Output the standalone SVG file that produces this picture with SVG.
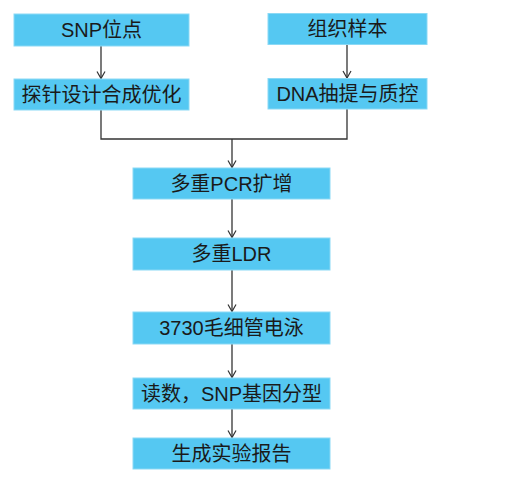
<svg xmlns="http://www.w3.org/2000/svg" width="531" height="491" viewBox="0 0 531 491">
<style>
.box{fill:#55C8F2;stroke:#8BD9F5;stroke-width:1}
.lbl{font-family:"Liberation Sans","Noto Sans CJK SC",sans-serif;font-size:20px;fill:#1a1a1a;text-anchor:middle}
.c{fill:none;stroke:#333;stroke-width:1.3}
</style>
<defs>
<marker id="ah" markerWidth="10" markerHeight="10" refX="8" refY="5" orient="auto" markerUnits="userSpaceOnUse">
<path d="M1,1 L8,5 L1,9" fill="none" stroke="#333" stroke-width="1.2"/>
</marker>
</defs>
<rect width="531" height="491" fill="#fff"/>
<g id="connectors">
<line class="c" x1="101" y1="46" x2="101" y2="78.5" marker-end="url(#ah)"/>
<line class="c" x1="347" y1="45" x2="347" y2="78" marker-end="url(#ah)"/>
<polyline class="c" points="101,110 101,139 347,139 347,109"/>
<line class="c" x1="232" y1="139" x2="232" y2="167.5" marker-end="url(#ah)"/>
<line class="c" x1="232" y1="199" x2="232" y2="237.5" marker-end="url(#ah)"/>
<line class="c" x1="232" y1="270" x2="232" y2="311.5" marker-end="url(#ah)"/>
<line class="c" x1="232" y1="344" x2="232" y2="377.5" marker-end="url(#ah)"/>
<line class="c" x1="232" y1="409" x2="232" y2="437.5" marker-end="url(#ah)"/>
</g>
<g id="n1"><rect class="box" x="14" y="14" width="175" height="32"/><text class="lbl" x="101.5" y="37">SNP位点</text></g>
<g id="n2"><rect class="box" x="268" y="13.5" width="159" height="31"/><text class="lbl" x="347.5" y="36">组织样本</text></g>
<g id="n3"><rect class="box" x="14" y="79" width="175" height="31"/><text class="lbl" x="101.5" y="101.5">探针设计合成优化</text></g>
<g id="n4"><rect class="box" x="268" y="78.5" width="159" height="30.5"/><text class="lbl" x="347.5" y="101">DNA抽提与质控</text></g>
<g id="n5"><rect class="box" x="133" y="168" width="197" height="31"/><text class="lbl" x="231.5" y="190.5">多重PCR扩增</text></g>
<g id="n6"><rect class="box" x="133" y="238" width="197" height="32"/><text class="lbl" x="231.5" y="261">多重LDR</text></g>
<g id="n7"><rect class="box" x="133" y="312" width="197" height="32"/><text class="lbl" x="231.5" y="335">3730毛细管电泳</text></g>
<g id="n8"><rect class="box" x="133" y="378" width="197" height="31"/><text class="lbl" x="231.5" y="400.5">读数，SNP基因分型</text></g>
<g id="n9"><rect class="box" x="133" y="438" width="197" height="31"/><text class="lbl" x="231.5" y="460.5">生成实验报告</text></g>
</svg>
